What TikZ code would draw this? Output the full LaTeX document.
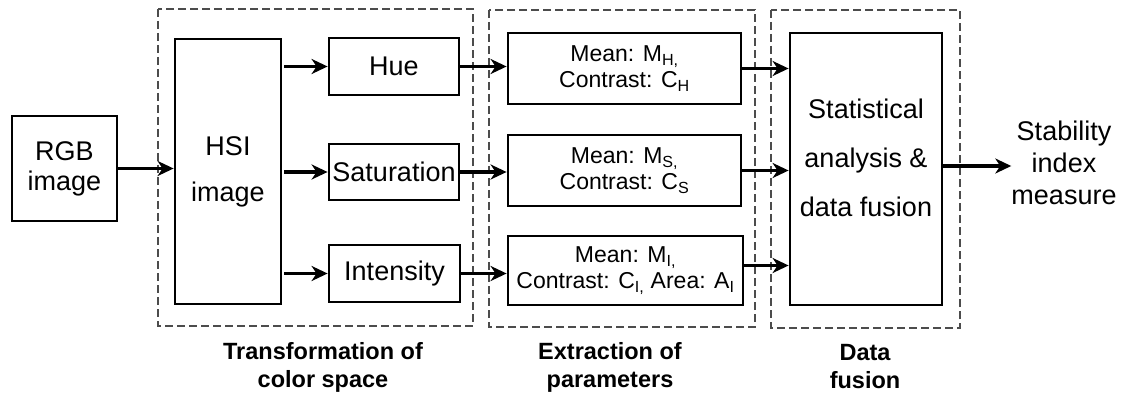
\documentclass[tikz,border=0pt]{standalone}
\usepackage{fontspec}
\setmainfont{Liberation Sans}
\usetikzlibrary{arrows.meta}
\tikzset{
  blk/.style={draw, line width=2.8pt, inner sep=0pt, align=center, font=\fontsize{27}{30}\selectfont},
  par/.style={draw, line width=2.8pt, inner sep=0pt, align=center, minimum width=233pt, minimum height=71pt, font=\fontsize{23}{26}\selectfont},
  grp/.style={draw=black!70, line width=1.2pt, dash pattern=on 8pt off 4pt},
  lbl/.style={align=center, font=\fontsize{23.5}{28}\selectfont\bfseries},
  arr/.style={line width=3.2pt, -{Stealth[length=16pt,width=15pt,inset=5pt]}}
}
\begin{document}
\begin{tikzpicture}[x=1pt,y=-1pt]
\useasboundingbox (0,0) rectangle (1125,401);
% groups
\draw[grp] (158,9) rectangle (473,326);
\draw[grp] (489,10) rectangle (755,327);
\draw[grp] (771,10) rectangle (960,328);
% blocks
\node[blk, minimum width=105pt, minimum height=105pt] (rgb) at (64.5,168.5) {RGB\\image};
\node[blk, minimum width=106pt, minimum height=265pt, font=\fontsize{27}{46}\selectfont] (hsi) at (228,171.5) {HSI\\image};
\node[blk, minimum width=130pt, minimum height=57pt] (hue) at (394,66.5) {Hue};
\node[blk, minimum width=130pt, minimum height=56pt] (sat) at (394,172) {Saturation};
\node[blk, minimum width=131pt, minimum height=57pt] (int) at (394.5,273.5) {Intensity};
\node[par] (mh) at (624.5,68.5) {Mean: M\textsubscript{H,}\\Contrast: C\textsubscript{H}};
\node[par] (ms) at (624.5,170.5) {Mean: M\textsubscript{S,}\\Contrast: C\textsubscript{S}};
\node[par, minimum width=235pt, minimum height=69pt] (mi) at (625.5,270.5) {Mean: M\textsubscript{I,}\\Contrast: C\textsubscript{I,} Area: A\textsubscript{I}};
\node[blk, minimum width=152pt, minimum height=272pt] (stat) at (866,169) {};
\node[align=center, font=\fontsize{27}{49}\selectfont] (stattxt) at (866,158) {Statistical\\analysis \&\\data fusion};
\node[align=center, inner sep=0pt, font=\fontsize{27}{32}\selectfont] (out) at (1064,163) {Stability\\index\\measure};
% labels
\node[lbl] (l1) at (323,367) {Transformation of\\color space};
\node[lbl] (l2) at (610,367) {Extraction of\\parameters};
\node[lbl] (l3) at (865,367) {Data\\fusion};
% connectors
\draw[arr] (rgb.east) -- (rgb.east -| hsi.west);
\draw[arr] ([xshift=2pt]hsi.east |- hue.west) -- (hue.west);
\draw[arr] ([xshift=2pt]hsi.east |- sat.west) -- (sat.west);
\draw[arr] ([xshift=2pt]hsi.east |- int.west) -- (int.west);
\draw[arr] (hue.east) -- (hue.east -| mh.west);
\draw[arr] (sat.east) -- (sat.east -| ms.west);
\draw[arr] (int.east) -- (int.east -| mi.west);
\draw[arr] (mh.east) -- (mh.east -| stat.west);
\draw[arr] (ms.east) -- (ms.east -| stat.west);
\draw[arr] (mi.east) ++(0,-5) coordinate (mie) -- (mie -| stat.west);
\draw[arr] ([yshift=3pt]stat.east) -- ([yshift=3pt]stat.east -| out.west);
\end{tikzpicture}
\end{document}
